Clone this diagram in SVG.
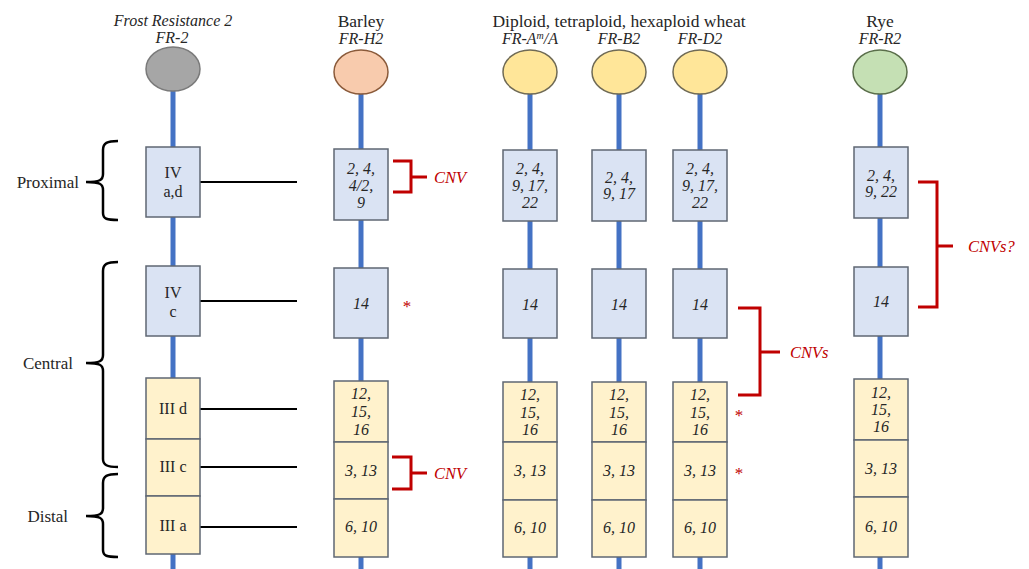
<svg xmlns="http://www.w3.org/2000/svg" width="1029" height="569" viewBox="0 0 1029 569">
<style>
text{font-family:"Liberation Serif","DejaVu Serif",serif;fill:#262626}
.hd{font-size:16px;text-anchor:middle}
.hdu{font-size:17.5px;text-anchor:middle}
.it{font-style:italic}
.bl{font-size:16px;font-style:italic;text-anchor:middle}
.lb{font-size:16px;text-anchor:middle}
.side{font-size:17px;text-anchor:end}
.blue{fill:#dae3f3;stroke:#5f6773;stroke-width:1.5}
.yel{fill:#fff2cc;stroke:#5f6773;stroke-width:1.5}
.chrom{stroke:#4472c4;stroke-width:5;fill:none}
.hl{stroke:#000;stroke-width:2;fill:none}
.brace{stroke:#000;stroke-width:2.5;fill:none}
.red{stroke:#c00000;stroke-width:3;fill:none}
.rt{font-size:16.5px;font-style:italic;fill:#c00000}
.ast{font-size:17px;fill:#c00000;text-anchor:middle}
</style>
<rect width="1029" height="569" fill="#fff"/>
<g id="headers">
<text class="hd it" x="173" y="26" font-size="15.5">Frost Resistance 2</text>
<text class="hd it" x="172" y="43">FR-2</text>
<text class="hdu" x="361" y="27">Barley</text>
<text class="hd it" x="361" y="44">FR-H2</text>
<text class="hdu" x="619" y="27">Diploid, tetraploid, hexaploid wheat</text>
<text class="hd it" x="530" y="44">FR-A<tspan font-size="10" dy="-5">m</tspan><tspan dy="5">/A</tspan></text>
<text class="hd it" x="619" y="44">FR-B2</text>
<text class="hd it" x="700" y="44">FR-D2</text>
<text class="hdu" x="880" y="27">Rye</text>
<text class="hd it" x="880" y="44">FR-R2</text>
</g>
<g id="connectors">
<line class="chrom" x1="173" y1="90" x2="173" y2="569"/>
<line class="chrom" x1="361" y1="92" x2="361" y2="569"/>
<line class="chrom" x1="530" y1="92" x2="530" y2="569"/>
<line class="chrom" x1="619" y1="92" x2="619" y2="569"/>
<line class="chrom" x1="700" y1="92" x2="700" y2="569"/>
<line class="chrom" x1="880" y1="92" x2="880" y2="569"/>
<line class="hl" x1="200" y1="182" x2="297" y2="182"/>
<line class="hl" x1="200" y1="301" x2="297" y2="301"/>
<line class="hl" x1="200" y1="409" x2="297" y2="409"/>
<line class="hl" x1="200" y1="467" x2="297" y2="467"/>
<line class="hl" x1="200" y1="527" x2="297" y2="527"/>
</g>
<g id="heads">
<ellipse cx="173" cy="69" rx="27" ry="22" fill="#a6a6a6" stroke="#7a7a7a" stroke-width="1.5"/>
<ellipse cx="361" cy="72" rx="27" ry="22" fill="#f8cbad" stroke="#8a5a3a" stroke-width="1.5"/>
<ellipse cx="530" cy="72" rx="27" ry="22" fill="#ffe699" stroke="#6f6a55" stroke-width="1.5"/>
<ellipse cx="619" cy="72" rx="27" ry="22" fill="#ffe699" stroke="#6f6a55" stroke-width="1.5"/>
<ellipse cx="700" cy="72" rx="27" ry="22" fill="#ffe699" stroke="#6f6a55" stroke-width="1.5"/>
<ellipse cx="880" cy="72" rx="27" ry="22" fill="#c5e0b4" stroke="#5a6e4a" stroke-width="1.5"/>
</g>
<g id="regions">
<path class="brace" d="M118,141 C107,141 103,143 103,150 L103,174 C103,180 100,182 86,182 C100,182 103,184 103,190 L103,213 C103,219 107,220 118,220"/>
<path class="brace" d="M118,262 C107,262 103,264 103,271 L103,355 C103,361 100,363 86,363 C100,363 103,365 103,371 L103,459 C103,465 107,467 118,467"/>
<path class="brace" d="M118,474 C107,474 103,476 103,483 L103,508 C103,514 100,516 86,516 C100,516 103,518 103,524 L103,550 C103,556 107,557 118,557"/>
<text class="side" x="79" y="188">Proximal</text>
<text class="side" x="73" y="369">Central</text>
<text class="side" x="68" y="522">Distal</text>
</g>
<g id="fr2">
<rect class="blue" x="146" y="147" width="54" height="70"/>
<text class="lb" x="173" y="178">IV</text><text class="lb" x="173" y="197">a,d</text>
<rect class="blue" x="146" y="266" width="54" height="70"/>
<text class="lb" x="173" y="298">IV</text><text class="lb" x="173" y="317">c</text>
<rect class="yel" x="146" y="378" width="54" height="61"/>
<text class="lb" x="173" y="414">III d</text>
<rect class="yel" x="146" y="439" width="54" height="57"/>
<text class="lb" x="173" y="472">III c</text>
<rect class="yel" x="146" y="496" width="54" height="58"/>
<text class="lb" x="173" y="531">III a</text>
</g>
<g id="barley">
<rect class="blue" x="334" y="149" width="54" height="71"/>
<text class="bl" x="361" y="174">2, 4,</text><text class="bl" x="361" y="191">4/2,</text><text class="bl" x="361" y="208">9</text>
<rect class="blue" x="334" y="268" width="54" height="70"/>
<text class="bl" x="361" y="309">14</text>
<rect class="yel" x="334" y="381" width="54" height="61"/>
<text class="bl" x="361" y="399">12,</text><text class="bl" x="361" y="417">15,</text><text class="bl" x="361" y="435">16</text>
<rect class="yel" x="334" y="442" width="54" height="57"/>
<text class="bl" x="361" y="476">3, 13</text>
<rect class="yel" x="334" y="499" width="54" height="58"/>
<text class="bl" x="361" y="532">6, 10</text>
</g>
<g id="wheatA">
<rect class="blue" x="503" y="150" width="54" height="71"/>
<text class="bl" x="530" y="174">2, 4,</text><text class="bl" x="530" y="191">9, 17,</text><text class="bl" x="530" y="208">22</text>
<rect class="blue" x="503" y="269" width="54" height="69"/>
<text class="bl" x="530" y="310">14</text>
<rect class="yel" x="503" y="382" width="54" height="60"/>
<text class="bl" x="530" y="400">12,</text><text class="bl" x="530" y="418">15,</text><text class="bl" x="530" y="435">16</text>
<rect class="yel" x="503" y="442" width="54" height="58"/>
<text class="bl" x="530" y="476">3, 13</text>
<rect class="yel" x="503" y="500" width="54" height="57"/>
<text class="bl" x="530" y="533">6, 10</text>
</g>
<g id="wheatB">
<rect class="blue" x="592" y="150" width="54" height="71"/>
<text class="bl" x="619" y="183">2, 4,</text><text class="bl" x="619" y="199">9, 17</text>
<rect class="blue" x="592" y="269" width="54" height="69"/>
<text class="bl" x="619" y="310">14</text>
<rect class="yel" x="592" y="382" width="54" height="60"/>
<text class="bl" x="619" y="400">12,</text><text class="bl" x="619" y="418">15,</text><text class="bl" x="619" y="435">16</text>
<rect class="yel" x="592" y="442" width="54" height="58"/>
<text class="bl" x="619" y="476">3, 13</text>
<rect class="yel" x="592" y="500" width="54" height="57"/>
<text class="bl" x="619" y="533">6, 10</text>
</g>
<g id="wheatD">
<rect class="blue" x="673" y="150" width="54" height="71"/>
<text class="bl" x="700" y="174">2, 4,</text><text class="bl" x="700" y="191">9, 17,</text><text class="bl" x="700" y="208">22</text>
<rect class="blue" x="673" y="269" width="54" height="69"/>
<text class="bl" x="700" y="310">14</text>
<rect class="yel" x="673" y="382" width="54" height="60"/>
<text class="bl" x="700" y="400">12,</text><text class="bl" x="700" y="418">15,</text><text class="bl" x="700" y="435">16</text>
<rect class="yel" x="673" y="442" width="54" height="58"/>
<text class="bl" x="700" y="476">3, 13</text>
<rect class="yel" x="673" y="500" width="54" height="57"/>
<text class="bl" x="700" y="533">6, 10</text>
</g>
<g id="rye">
<rect class="blue" x="854" y="147" width="54" height="71"/>
<text class="bl" x="881" y="181">2, 4,</text><text class="bl" x="881" y="197">9, 22</text>
<rect class="blue" x="854" y="267" width="54" height="69"/>
<text class="bl" x="881" y="307">14</text>
<rect class="yel" x="854" y="379" width="54" height="61"/>
<text class="bl" x="881" y="398">12,</text><text class="bl" x="881" y="415">15,</text><text class="bl" x="881" y="432">16</text>
<rect class="yel" x="854" y="440" width="54" height="57"/>
<text class="bl" x="881" y="474">3, 13</text>
<rect class="yel" x="854" y="497" width="54" height="60"/>
<text class="bl" x="881" y="532">6, 10</text>
</g>
<g id="cnv">
<path class="red" d="M393,161 H411 V192 H393 M411,177 H427"/>
<text class="rt" x="434" y="183">CNV</text>
<path class="red" d="M392,457 H411 V489 H392 M411,473 H427"/>
<text class="rt" x="434" y="479">CNV</text>
<path class="red" d="M738,308 H760 V395 H738 M760,352 H780"/>
<text class="rt" x="790" y="358">CNVs</text>
<path class="red" d="M918,182 H937 V307 H918 M937,246 H953"/>
<text class="rt" x="968" y="252">CNVs?</text>
<text class="ast" x="407" y="312">*</text>
<text class="ast" x="739" y="421">*</text>
<text class="ast" x="739" y="479">*</text>
</g>
</svg>
